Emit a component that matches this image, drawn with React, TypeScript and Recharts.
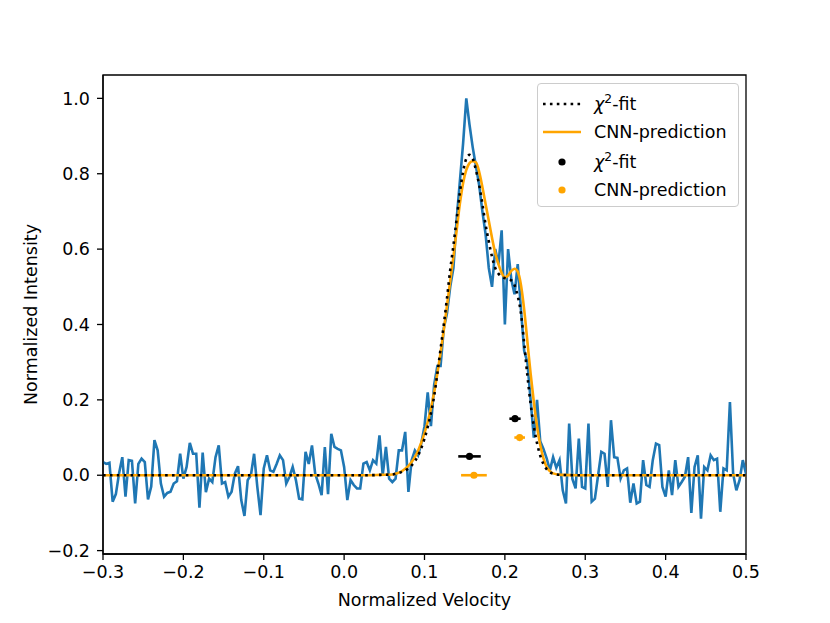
import React from 'react';
import { ComposedChart, Line, Scatter, XAxis, YAxis, ErrorBar, ReferenceArea } from 'recharts';

const FONT = 'DejaVu Sans';
const BLUE = '#1f77b4';
const ORANGE = '#ffa500';

// observed spectrum, sampled on a regular velocity grid
const VEL_START = -0.3;
const VEL_STEP = 0.004;
const intensity = [
  0.035, 0.03, 0.033, -0.07, -0.05, 0.005, 0.048, -0.057, 0.04, 0.038,
  -0.075, 0.03, 0.044, 0.035, -0.064, -0.03, 0.093, 0.066, -0.022, -0.057,
  -0.047, -0.044, -0.022, -0.016, 0.057, -0.009, 0.022, 0.086, 0.057, 0.057,
  -0.086, 0.06, -0.045, -0.009, -0.018, 0.048, 0.079, -0.022, -0.018, -0.057,
  -0.044, 0.004, 0.024, -0.066, -0.108, -0.013, 0, 0.057, -0.031, -0.106,
  0.018, 0.053, 0.013, 0.009, 0.03, 0.053, 0.04, -0.022, -0.004, 0.022,
  -0.013, -0.062, -0.064, 0.062, 0.03, 0.079, 0.004, -0.022, -0.053, 0.075,
  -0.05, 0.11, 0.075, 0.07, 0.066, 0.022, -0.066, -0.013, -0.026, -0.035,
  -0.035, 0.031, 0.035, 0.013, 0.04, 0.031, 0.106, 0, 0.075, -0.009,
  -0.018, -0.009, 0.066, 0.066, 0.115, -0.044, 0.04, 0.066, 0.053, 0.084,
  0.13, 0.22, 0.13, 0.24, 0.29, 0.29, 0.39, 0.43, 0.5, 0.55,
  0.68, 0.78, 0.88, 1.0, 0.93, 0.87, 0.82, 0.77, 0.7, 0.64,
  0.55, 0.5, 0.6, 0.56, 0.65, 0.4, 0.6, 0.52, 0.48, 0.56,
  0.44, 0.33, 0.3, 0.2, 0.1, 0.2, 0.09, 0.07, 0.045, 0.013,
  0.048, 0.02, 0.04, -0.04, -0.075, 0.137, -0.01, -0.035, 0.097, -0.031,
  -0.035, 0.137, -0.07, -0.062, 0.0, 0.062, 0.057, -0.031, 0.146, 0.048,
  0.046, -0.009, 0.013, 0.018, -0.073, -0.022, -0.075, -0.07, 0.04, -0.026,
  -0.031, 0.04, 0.084, 0.08, -0.031, -0.057, 0.013, -0.053, 0.04, -0.031,
  -0.018, -0.004, 0.048, -0.1, 0.022, 0.053, -0.115, 0.022, 0.013, 0.053,
  0.04, 0.044, -0.097, 0.018, 0.013, 0.194, 0.004, -0.04, -0.013, 0.04,
  0.004,
];

// fitted profiles across the line (0.06 .. 0.26, same step), flat wings outside
const FIT_START = 0.06;
const chiFit = [
  0.002, 0.004, 0.006, 0.009, 0.013, 0.018, 0.026, 0.037, 0.052, 0.072,
  0.097, 0.128, 0.165, 0.21, 0.27, 0.335, 0.4, 0.47, 0.545, 0.61,
  0.68, 0.75, 0.805, 0.84, 0.85, 0.84, 0.81, 0.77, 0.72, 0.665,
  0.62, 0.58, 0.55, 0.535, 0.527, 0.523, 0.52, 0.517, 0.505, 0.475,
  0.43, 0.35, 0.265, 0.19, 0.13, 0.085, 0.052, 0.03, 0.016, 0.008,
  0.004,
];
const cnnFit = [
  0.002, 0.004, 0.007, 0.011, 0.017, 0.025, 0.035, 0.048, 0.065, 0.087,
  0.112, 0.142, 0.177, 0.22, 0.27, 0.325, 0.385, 0.45, 0.515, 0.58,
  0.65, 0.72, 0.775, 0.81, 0.828, 0.833, 0.83, 0.805, 0.765, 0.72,
  0.675, 0.63, 0.59, 0.56, 0.537, 0.525, 0.53, 0.542, 0.548, 0.54,
  0.505, 0.44, 0.355, 0.27, 0.195, 0.13, 0.08, 0.045, 0.022, 0.011,
  0.005,
];
const wingLeftVel = [-0.3, 0.03, 0.045];
const wingLeftVal = [0, 0, 0.001];
const wingRightVel = [0.27, 0.29, 0.5];
const wingRightVal = [0.001, 0, 0];

// centroid estimates with horizontal uncertainties
const chiPointVel = [0.156, 0.2126];
const chiPointVal = [0.05, 0.15];
const chiPointErr = [0.014, 0.007];
const cnnPointVel = [0.1615, 0.2184];
const cnnPointVal = [0.0, 0.1];
const cnnPointErr = [0.016, 0.0066];

const xTicks = [-0.3, -0.2, -0.1, 0.0, 0.1, 0.2, 0.3, 0.4, 0.5];
const yTicks = [-0.2, 0.0, 0.2, 0.4, 0.6, 0.8, 1.0];
const X_DOMAIN = [-0.3, 0.5];
const Y_DOMAIN = [-0.209, 1.062];

const spectrum = intensity.map((y, i) => ({ v: VEL_START + i * VEL_STEP, y }));

const fitSeries = (vals: number[]) => [
  ...wingLeftVel.map((v, i) => ({ v, y: wingLeftVal[i] })),
  ...vals.map((y, i) => ({ v: FIT_START + i * VEL_STEP, y })),
  ...wingRightVel.map((v, i) => ({ v, y: wingRightVal[i] })),
];
const chiData = fitSeries(chiFit);
const cnnData = fitSeries(cnnFit);

const chiPoints = chiPointVel.map((v, i) => ({ v, y: chiPointVal[i], err: chiPointErr[i] }));
const cnnPoints = cnnPointVel.map((v, i) => ({ v, y: cnnPointVal[i], err: cnnPointErr[i] }));

const fmt = (v: number) => {
  const s = Math.abs(v).toFixed(1);
  return v < -1e-9 ? '\u2212' + s : s;
};

const tickStyle = { fill: '#000', fontSize: 17.5, fontFamily: FONT };
const axisStroke = { stroke: '#000', strokeWidth: 1.3 };

const dot = (color: string) => (props: any) =>
  <circle cx={props.cx} cy={props.cy} r={3.6} fill={color} />;

const Chi = () => (
  <span>
    <span style={{ fontStyle: 'italic' }}>χ</span>
    <sup style={{ fontSize: '70%', verticalAlign: '0.55em', lineHeight: 0 }}>2</sup>-fit
  </span>
);

const legendRows = [
  { top: 20, handle: 'dotted', color: '#000', label: <Chi /> },
  { top: 48, handle: 'line', color: ORANGE, label: 'CNN-prediction' },
  { top: 78, handle: 'dot', color: '#000', label: <Chi /> },
  { top: 106, handle: 'dot', color: ORANGE, label: 'CNN-prediction' },
];

const LegendBox = () => (
  <div
    style={{
      position: 'absolute', left: 537, top: 83, width: 200, height: 122,
      border: '1px solid #cccccc', borderRadius: 4, background: 'rgba(255,255,255,0.8)',
      fontFamily: FONT, fontSize: 17.5, color: '#000',
    }}
  >
    {legendRows.map((r, k) => (
      <div key={k} style={{ position: 'absolute', left: 0, top: r.top - 12, height: 24, width: 200 }}>
        <svg width={50} height={24} style={{ position: 'absolute', left: 0, top: 0 }}>
          {r.handle === 'dotted' && (
            <line x1={5} x2={43} y1={12} y2={12} stroke={r.color} strokeWidth={2.6} strokeDasharray="2.6 4.3" />
          )}
          {r.handle === 'line' && <line x1={5} x2={43} y1={12} y2={12} stroke={r.color} strokeWidth={2.6} />}
          {r.handle === 'dot' && <circle cx={24} cy={12} r={3.6} fill={r.color} />}
        </svg>
        <div style={{ position: 'absolute', left: 56, top: 0, lineHeight: '24px', whiteSpace: 'nowrap' }}>
          {r.label}
        </div>
      </div>
    ))}
  </div>
);

export default function App() {
  return (
    <div style={{ position: 'absolute', left: 0, top: 0, width: 830, height: 623, background: '#fff' }}>
      <ComposedChart width={830} height={623} margin={{ top: 75, right: 84, bottom: 14, left: 43 }}>
        <XAxis
          dataKey="v"
          type="number"
          domain={X_DOMAIN}
          allowDataOverflow
          ticks={xTicks}
          tickFormatter={fmt}
          tick={tickStyle}
          tickSize={6}
          tickMargin={6}
          axisLine={axisStroke}
          tickLine={axisStroke}
          height={55}
          label={{
            content: () => (
              <text x={424.5} y={606} textAnchor="middle" fontFamily={FONT} fontSize={17.5} fill="#000">
                Normalized Velocity
              </text>
            ),
          }}
        />
        <YAxis
          type="number"
          domain={Y_DOMAIN}
          allowDataOverflow
          ticks={yTicks}
          tickFormatter={fmt}
          tick={tickStyle}
          tickSize={6}
          tickMargin={7}
          axisLine={axisStroke}
          tickLine={axisStroke}
          width={60}
          label={{
            content: () => (
              <text
                x={37}
                y={314.5}
                textAnchor="middle"
                transform="rotate(-90 37 314.5)"
                fontFamily={FONT}
                fontSize={17.5}
                fill="#000"
              >
                Normalized Intensity
              </text>
            ),
          }}
        />
        <ReferenceArea
          x1={X_DOMAIN[0]}
          x2={X_DOMAIN[1]}
          y1={Y_DOMAIN[0]}
          y2={Y_DOMAIN[1]}
          fill="none"
          fillOpacity={0}
          stroke="#000"
          strokeWidth={1.3}
        />
        <Line
          data={spectrum}
          dataKey="y"
          type="linear"
          stroke={BLUE}
          strokeWidth={2.6}
          dot={false}
          activeDot={false}
          isAnimationActive={false}
        />
        <Line
          data={cnnData}
          dataKey="y"
          type="monotone"
          stroke={ORANGE}
          strokeWidth={2.6}
          dot={false}
          activeDot={false}
          isAnimationActive={false}
        />
        <Line
          data={chiData}
          dataKey="y"
          type="monotone"
          stroke="#000"
          strokeWidth={2.6}
          strokeDasharray="2.6 4.3"
          dot={false}
          activeDot={false}
          isAnimationActive={false}
        />
        <Scatter data={chiPoints} dataKey="y" fill="#000" shape={dot('#000')} isAnimationActive={false}>
          <ErrorBar dataKey="err" direction="x" width={0} stroke="#000" strokeWidth={2.6} />
        </Scatter>
        <Scatter data={cnnPoints} dataKey="y" fill={ORANGE} shape={dot(ORANGE)} isAnimationActive={false}>
          <ErrorBar dataKey="err" direction="x" width={0} stroke={ORANGE} strokeWidth={2.6} />
        </Scatter>
      </ComposedChart>
      <LegendBox />
    </div>
  );
}
